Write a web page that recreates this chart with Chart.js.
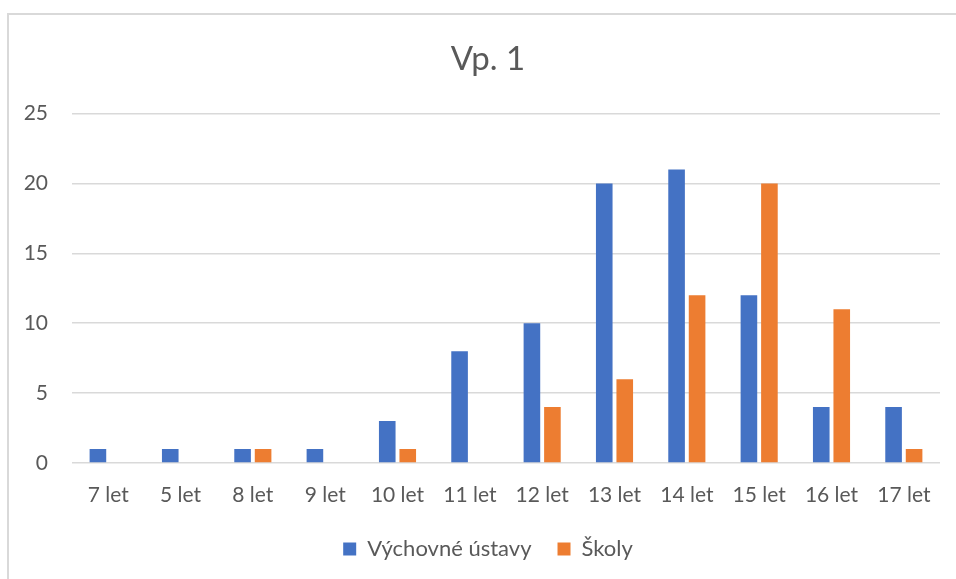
<!DOCTYPE html>
<html lang="cs">
<head>
    <meta charset="UTF-8">
    <title>Vp. 1</title>
    <script src="https://cdn.jsdelivr.net/npm/chart.js@4.4.1/dist/chart.umd.min.js"></script>
    <style>
      html, body { margin: 0; padding: 0; background: #fff; overflow: hidden; }
      #frame {
        position: absolute; left: 7px; top: 13px;
        width: 1100px; height: 800px;
        border: 2px solid #d9d9d9;
      }
      /* a bit wider than the window so title and legend centre like the original frame */
      #wrap { position: absolute; left: 0; top: 0; width: 976px; height: 579px; }
    </style>
</head>
<body>
    <div id="frame"></div>
    <div id="wrap"><canvas id="myChart"></canvas></div>

    <script>
        // data
        const categories = ['7 let', '5 let', '8 let', '9 let', '10 let', '11 let', '12 let', '13 let', '14 let', '15 let', '16 let', '17 let'];
        const ustavy = [1, 1, 1, 1, 3, 8, 10, 20, 21, 12, 4, 4];
        const skoly = [0, 0, 1, 0, 1, 0, 4, 6, 12, 20, 11, 1];
        const yTicks = [0, 5, 10, 15, 20, 25];

        const font = 'Lato';
        const grey = '#595959';

        const ctx = document.getElementById('myChart').getContext('2d');
        new Chart(ctx, {
            type: 'bar',
            data: {
                labels: categories,
                datasets: [{
                    label: 'Výchovné ústavy',
                    data: ustavy,
                    backgroundColor: '#4472c4',
                    barPercentage: 0.81,
                    categoryPercentage: 0.567
                }, {
                    label: 'Školy',
                    data: skoly,
                    backgroundColor: '#ed7d31',
                    barPercentage: 0.81,
                    categoryPercentage: 0.567
                }]
            },
            options: {
                responsive: true,
                maintainAspectRatio: false,
                animation: false,
                layout: { padding: { left: 0, right: 0, top: 0, bottom: 9 } },
                plugins: {
                    title: {
                        display: true,
                        text: 'Vp. 1',
                        color: grey,
                        font: { family: font, size: 33, weight: 'normal' },
                        padding: { top: 40, bottom: 34 }
                    },
                    legend: {
                        position: 'bottom',
                        labels: {
                            boxWidth: 13,
                            boxHeight: 13,
                            padding: 26,
                            color: grey,
                            font: { family: font, size: 22 }
                        }
                    },
                    tooltip: { enabled: false }
                },
                scales: {
                    x: {
                        grid: { display: false },
                        border: { display: false },
                        ticks: { color: grey, padding: 12, font: { family: font, size: 21 } },
                        afterFit: s => { s.height = 49; }
                    },
                    y: {
                        min: 0,
                        max: 25,
                        grid: { color: '#d9d9d9', lineWidth: 1.5, drawTicks: false },
                        border: { display: false },
                        afterBuildTicks: s => { s.ticks = yTicks.map(v => ({ value: v })); },
                        ticks: { color: grey, padding: 24, font: { family: font, size: 21 } },
                        afterFit: s => { s.width = 72; }
                    },
                    // empty spacer on the right, only there for the layout
                    spacer: {
                        position: 'right',
                        grid: { display: false },
                        border: { display: false },
                        ticks: { display: false },
                        afterFit: s => { s.width = 36; }
                    }
                }
            }
        });
    </script>
</body>
</html>
